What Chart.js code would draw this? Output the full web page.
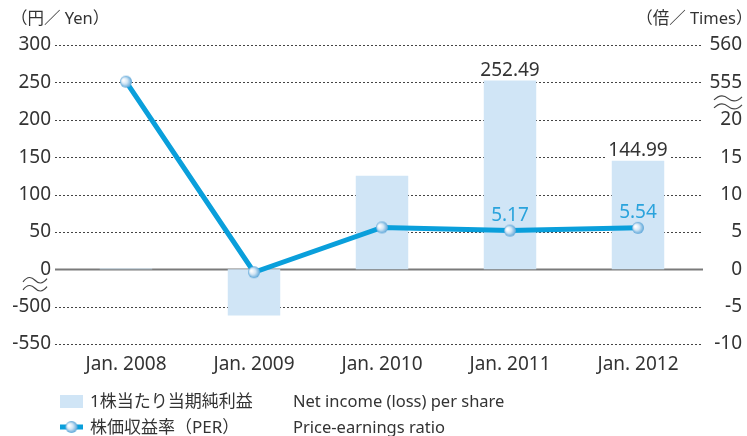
<!DOCTYPE html>
<html><head><meta charset="utf-8">
<script src="https://cdn.jsdelivr.net/npm/chart.js@4"></script>
<style>html,body{margin:0;padding:0;background:#fff}</style>
</head><body>
<canvas id="c" width="747" height="436"></canvas>
<script>
const categories = ['Jan. 2008', 'Jan. 2009', 'Jan. 2010', 'Jan. 2011', 'Jan. 2012'];
const epsValues = [0.9, -512, 125, 252.49, 144.99];
const perValues = [555.1, -0.4, 5.6, 5.17, 5.54];
const epsLabelText = ['', '', '', '252.49', '144.99'];
const perLabelText = ['', '', '', '5.17', '5.54'];
const leftTicks = [-550, -500, 0, 50, 100, 150, 200, 250, 300];
const rightTicks = [-10, -5, 0, 5, 10, 15, 20, 555, 560];
const leftAxisTitle = '（円／ Yen）';
const rightAxisTitle = '（倍／ Times）';
const legendJa = ['1株当たり当期純利益', '株価収益率（PER）'];
const legendEn = ['Net income (loss) per share', 'Price-earnings ratio'];

// broken-axis mappings (display units)
function leftToDisplay(v) { return v >= 0 ? v / 50 : (v + 450) / 50; }
function rightToDisplay(v) { return v > 20 ? (v - 530) / 5 : v / 5; }

const FONT = "'Noto Sans', 'Noto Sans CJK JP', sans-serif";
const TEXT = '#333333';
const BAR = '#d0e5f6';
const LINE = '#0a9fdb';
const PERTEXT = '#2aa3dc';

Chart.defaults.font.family = FONT;

function makeSphere(r) {
  const c = document.createElement('canvas');
  c.width = c.height = 2 * r + 2;
  const g = c.getContext('2d');
  const cx = r + 1, cy = r + 1;
  const grad = g.createRadialGradient(cx - r * 0.45, cy - r * 0.25, r * 0.1, cx, cy, r);
  grad.addColorStop(0, '#ffffff');
  grad.addColorStop(0.45, '#d3e6f5');
  grad.addColorStop(1, '#5aa5d8');
  g.fillStyle = grad;
  g.beginPath(); g.arc(cx, cy, r, 0, Math.PI * 2); g.fill();
  return c;
}
const sphere = makeSphere(6);

function wave(ctx, x0, x1, y) {
  const w = x1 - x0, a = 2.6;
  ctx.beginPath();
  ctx.moveTo(x0, y + a * 0.6);
  ctx.bezierCurveTo(x0 + w * 0.2, y - a * 1.6, x0 + w * 0.35, y - a * 1.4, x0 + w * 0.5, y);
  ctx.bezierCurveTo(x0 + w * 0.65, y + a * 1.4, x0 + w * 0.8, y + a * 1.6, x1, y - a * 0.6);
  ctx.stroke();
}

const decorPlugin = {
  id: 'decor',
  beforeDatasetsDraw(chart) {
    const ctx = chart.ctx, y = chart.scales.y;
    ctx.save();
    leftTicks.forEach(v => {
      const py = Math.round(y.getPixelForValue(leftToDisplay(v))) + 0.5;
      ctx.beginPath();
      if (v === 0) { ctx.setLineDash([]); ctx.strokeStyle = '#7a7a7a'; ctx.lineWidth = 2; }
      else { ctx.setLineDash([2, 2]); ctx.strokeStyle = '#444444'; ctx.lineWidth = 1; }
      ctx.moveTo(55, py); ctx.lineTo(703, py); ctx.stroke();
    });
    ctx.restore();
  },
  afterDatasetsDraw(chart) {
    const ctx = chart.ctx;
    ctx.save();
    ctx.textAlign = 'center'; ctx.textBaseline = 'middle';
    ctx.font = '19px ' + FONT;
    const barMeta = chart.getDatasetMeta(1);
    barMeta.data.forEach((el, i) => {
      const t = epsLabelText[i]; if (!t) return;
      const w = ctx.measureText(t).width;
      const cy = el.y - 10;
      ctx.fillStyle = '#fff'; ctx.fillRect(el.x - w / 2 - 2, cy - 8, w + 4, 16);
      ctx.fillStyle = TEXT; ctx.fillText(t, el.x, cy);
    });
    const lineMeta = chart.getDatasetMeta(0);
    lineMeta.data.forEach((el, i) => {
      const t = perLabelText[i]; if (!t) return;
      ctx.fillStyle = PERTEXT; ctx.fillText(t, el.x, el.y - 15);
    });
    ctx.restore();
  },
  afterDraw(chart) {
    const ctx = chart.ctx, y = chart.scales.y, y1 = chart.scales.y1;
    ctx.save();
    // axis break marks
    ctx.strokeStyle = '#444'; ctx.lineWidth = 1.2; ctx.setLineDash([]);
    const y0 = y.getPixelForValue(0);
    wave(ctx, 23, 47, y0 + 11); wave(ctx, 23, 47, y0 + 19);
    const y555 = y1.getPixelForValue(rightToDisplay(555));
    wave(ctx, 714, 742, y555 + 16); wave(ctx, 714, 742, y555 + 24);
    // axis titles
    ctx.fillStyle = TEXT; ctx.font = '16.5px ' + FONT; ctx.textBaseline = 'middle'; ctx.textAlign = 'left';
    let m = ctx.measureText(leftAxisTitle);
    ctx.fillText(leftAxisTitle, 22 + m.actualBoundingBoxLeft, 19);
    m = ctx.measureText(rightAxisTitle);
    ctx.fillText(rightAxisTitle, 742 - m.actualBoundingBoxRight, 19);
    // legend
    ctx.fillStyle = BAR; ctx.fillRect(60, 395, 23, 13);
    ctx.fillStyle = LINE; ctx.fillRect(60, 424.5, 23, 5);
    ctx.drawImage(sphere, 71.5 - sphere.width / 2, 427 - sphere.height / 2);
    ctx.fillStyle = TEXT;
    ctx.font = '17px ' + FONT;
    ctx.fillText(legendJa[0], 90, 402); ctx.fillText(legendJa[1], 90, 428);
    ctx.font = '16.5px ' + FONT;
    ctx.fillText(legendEn[0], 293, 402); ctx.fillText(legendEn[1], 293, 428);
    ctx.restore();
  }
};

new Chart(document.getElementById('c'), {
  data: {
    labels: categories,
    datasets: [
      {
        type: 'line', label: legendJa[1], yAxisID: 'y1', order: 1,
        data: perValues.map(rightToDisplay),
        borderColor: LINE, borderWidth: 5, tension: 0,
        pointStyle: sphere, pointRadius: 6, pointHoverRadius: 6
      },
      {
        type: 'bar', label: legendJa[0], yAxisID: 'y', order: 2,
        data: epsValues.map(leftToDisplay),
        backgroundColor: BAR, borderWidth: 0,
        barPercentage: 0.41, categoryPercentage: 1.0
      }
    ]
  },
  options: {
    responsive: false, animation: false,
    layout: { padding: { top: 45, right: 5, left: 0, bottom: 0 } },
    plugins: { legend: { display: false }, tooltip: { enabled: false } },
    scales: {
      x: {
        offset: true,
        grid: { display: false, drawTicks: false }, border: { display: false },
        ticks: { color: TEXT, font: { size: 19 }, padding: 9, maxRotation: 0, autoSkip: false },
        afterFit(s) { s.height = 92; }
      },
      y: {
        position: 'left', min: -2, max: 6,
        grid: { display: false, drawTicks: false }, border: { display: false },
        afterBuildTicks(s) { s.ticks = leftTicks.map(v => ({ value: leftToDisplay(v) })); },
        ticks: { color: TEXT, font: { size: 19 }, padding: 11, callback: (v, i) => String(leftTicks[i]) },
        afterFit(s) { s.width = 62; }
      },
      y1: {
        position: 'right', min: -2, max: 6,
        grid: { display: false, drawTicks: false }, border: { display: false },
        afterBuildTicks(s) { s.ticks = rightTicks.map(v => ({ value: rightToDisplay(v) })); },
        ticks: { color: TEXT, font: { size: 19 }, padding: 0, crossAlign: 'far', callback: (v, i) => String(rightTicks[i]) },
        afterFit(s) { s.width = 40; }
      }
    }
  },
  plugins: [decorPlugin]
});
</script>
</body></html>
